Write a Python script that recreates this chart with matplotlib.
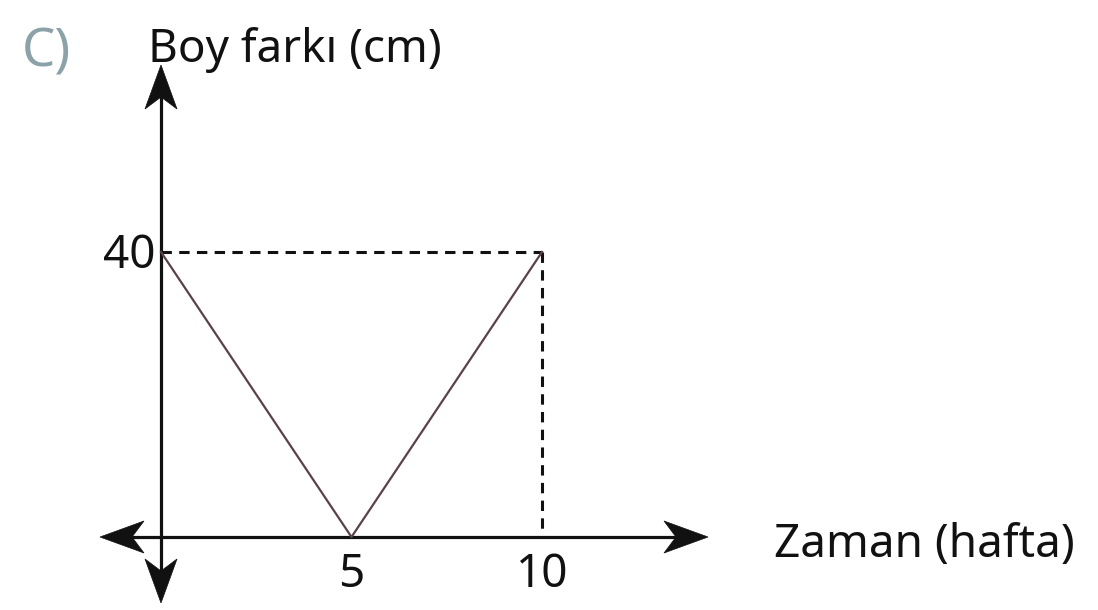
import matplotlib.pyplot as plt
from matplotlib.patches import Polygon

# height difference over time (V shape)
weeks = [0, 5, 10]
height_diff = [40, 0, 40]
x_ticks = [5, 10]
y_ticks = [40]
x_label = "Zaman (hafta)"
y_label = "Boy farkı (cm)"
panel_tag = "C)"

plt.rcParams['font.family'] = ['Noto Sans', 'DejaVu Sans']

W, H = 1098, 610
X0, X10 = 161, 542   # pixel columns of x=0 and x=10
Y0, Y40 = 537, 252   # pixel rows of y=0 and y=40
sx = (X10 - X0) / 10.0
sy = (Y0 - Y40) / 40.0

fig = plt.figure(figsize=(W / 100, H / 100), dpi=100)
ax = fig.add_axes([0, 0, 1, 1])
ax.set_xlim(-X0 / sx, (W - X0) / sx)
ax.set_ylim(-(H - Y0) / sy, Y0 / sy)
ax.axis('off')


def to_data(px, py):
    return (px - X0) / sx, (Y0 - py) / sy


def arrow_head(tx, ty, dx, dy, length=44, half=16, notch=12):
    nx, ny = -dy, dx
    bx, by = tx - dx * length, ty - dy * length
    pts = [(tx, ty),
           (bx + nx * half, by + ny * half),
           (tx - dx * (length - notch), ty - dy * (length - notch)),
           (bx - nx * half, by - ny * half)]
    ax.add_patch(Polygon([to_data(*p) for p in pts], closed=True,
                         facecolor='#111111', edgecolor='#111111', lw=0.5, zorder=5))


# axes with arrows at both ends
left_tip, right_tip = 100, 708
top_tip, bottom_tip = 65, 603
ax.plot([to_data(left_tip + 20, Y0)[0], to_data(right_tip - 20, Y0)[0]], [0, 0],
        color='#111111', lw=2.3, solid_capstyle='butt', zorder=4)
ax.plot([0, 0], [to_data(X0, bottom_tip - 20)[1], to_data(X0, top_tip + 20)[1]],
        color='#111111', lw=2.3, solid_capstyle='butt', zorder=4)
arrow_head(left_tip, Y0, -1, 0)
arrow_head(right_tip, Y0, 1, 0)
arrow_head(X0, top_tip, 0, -1)
arrow_head(X0, bottom_tip, 0, 1)

# guide lines to the (10, 40) corner
ax.plot([weeks[0], weeks[-1]], [height_diff[-1], height_diff[-1]],
        color='#111111', lw=2.2, dashes=(3.4, 2.4), zorder=3)
ax.plot([weeks[-1], weeks[-1]], [height_diff[-1], 0],
        color='#111111', lw=2.2, dashes=(3.4, 2.4), zorder=3)

ax.plot(weeks, height_diff, color='#5a4248', lw=1.6, zorder=4)

# tick labels
for v in x_ticks:
    ax.text(v, to_data(0, 587)[1], str(v), ha='center', va='baseline',
            fontsize=33, color='#111111')
for v in y_ticks:
    ax.text(to_data(155, 0)[0], v + to_data(0, 268)[1] - to_data(0, Y40)[1], str(v),
            ha='right', va='baseline', fontsize=33, color='#111111')

# axis titles and panel tag
ax.text(*to_data(148, 62), y_label, ha='left', va='baseline', fontsize=33, color='#111111')
ax.text(*to_data(774, 557), x_label, ha='left', va='baseline', fontsize=33, color='#111111')
ax.text(*to_data(22, 67), panel_tag, ha='left', va='baseline', fontsize=38,
        fontweight='light', color='#8aa2a8')

fig.savefig('out.png', dpi=100, facecolor='white')
